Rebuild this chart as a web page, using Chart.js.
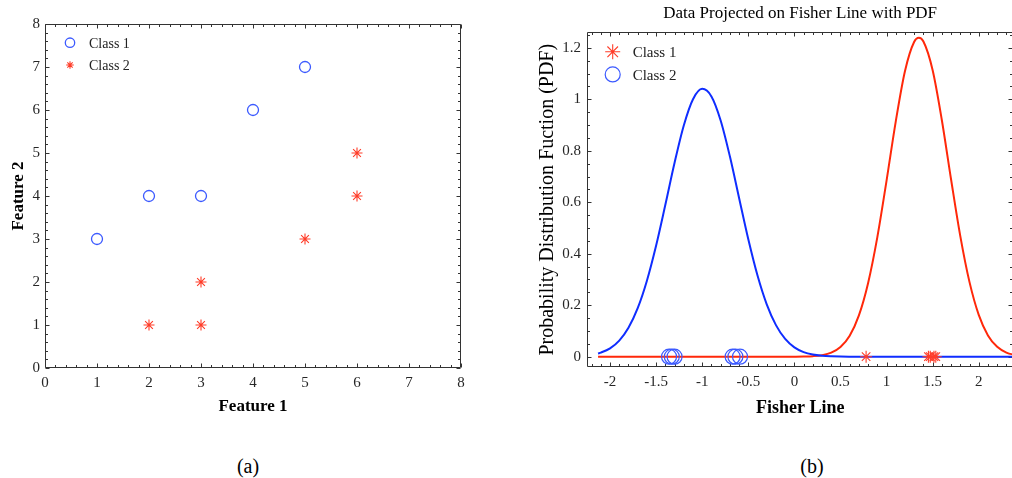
<!DOCTYPE html>
<html>
<head>
<meta charset="utf-8">
<script src="https://cdn.jsdelivr.net/npm/chart.js@4.4.1/dist/chart.umd.min.js"></script>
<style>
  html, body { margin: 0; padding: 0; background: #fff; width: 1012px; height: 478px; overflow: hidden; position: relative; }
  #scatterChart { position: absolute; left: 0; top: 0; }
  #fisherChart { position: absolute; left: 506px; top: 0; }
  .cap { position: absolute; top: 454px; width: 60px; text-align: center; font: 20px/24px "Liberation Serif", "Times New Roman", serif; color: #000; }
</style>
</head>
<body>
<canvas id="scatterChart" width="506" height="430"></canvas>
<canvas id="fisherChart" width="516" height="430"></canvas>
<div class="cap" style="left:218px">(a)</div>
<div class="cap" style="left:782px">(b)</div>
<script>
// (a) raw features
const feature1Class1 = [1, 2, 3, 4, 5];
const feature2Class1 = [3, 4, 4, 6, 7];
const feature1Class2 = [2, 3, 3, 5, 6, 6];
const feature2Class2 = [1, 1, 2, 3, 4, 5];

// (b) points projected on the Fisher line
const projClass1 = [1.454, 1.474, 0.778, 1.514, 1.534];
const projClass2 = [-0.67, -1.36, -0.64, -1.33, -1.30, -0.59];

// (b) PDF curves
const fisherX = [-2.13, -2.1, -2.0, -1.9, -1.8, -1.7, -1.6, -1.5, -1.4, -1.3, -1.2, -1.1, -1.0,
  -0.9, -0.8, -0.7, -0.6, -0.5, -0.4, -0.3, -0.2, -0.1, 0, 0.1, 0.2, 0.3, 0.4, 0.5, 0.6, 0.7,
  0.8, 0.9, 1.0, 1.1, 1.2, 1.3, 1.35, 1.4, 1.5, 1.6, 1.7, 1.8, 1.9, 2.0, 2.1, 2.2, 2.3, 2.4];
const pdfClass1 = [0, 0, 0, 0, 0, 0, 0, 0, 0, 0, 0, 0, 0,
  0, 0, 0, 0, 0, 0, 0, 0, 0, 0.0002, 0.0007, 0.0021, 0.006, 0.0158, 0.0377, 0.0816, 0.1605,
  0.2866, 0.4646, 0.6841, 0.9144, 1.11, 1.2235, 1.239, 1.2247, 1.1132, 0.9188, 0.6886, 0.4687, 0.2897, 0.1625, 0.0828, 0.0383, 0.0161, 0.0061];
const pdfClass2 = [0.0126, 0.0159, 0.0326, 0.0627, 0.1125, 0.1885, 0.2953, 0.432, 0.5903, 0.7534, 0.8983, 1.0004, 1.0408,
  1.0114, 0.918, 0.7785, 0.6166, 0.4562, 0.3153, 0.2035, 0.1227, 0.0691, 0.0364, 0.0179, 0.0082, 0.0035, 0.0014, 0.0005, 0.0002, 0.0001,
  0, 0, 0, 0, 0, 0, 0, 0, 0, 0, 0, 0, 0, 0, 0, 0, 0, 0];

const BLUE_PT = 'rgb(60, 90, 255)';
const RED_PT = 'rgb(255, 60, 40)';
const BLUE_LINE = 'rgb(15, 45, 255)';
const RED_LINE = 'rgb(255, 40, 10)';
const SERIF = '"Liberation Serif", "Times New Roman", serif';

Chart.defaults.font.family = SERIF;

const fmt = v => String(Math.round(v * 100) / 100);
const pts = (xs, ys) => xs.map((v, i) => ({ x: v, y: ys[i] }));

// box around the plot area with inward major/minor ticks on all sides
const frameTicks = {
  id: 'frameTicks',
  beforeDatasetsDraw(chart, args, o) {
    const { ctx, chartArea: a } = chart;
    const { x, y } = chart.scales;
    const L = Math.round(a.left) + 0.5, R = Math.round(a.right) - 0.5;
    const T = Math.round(a.top) + 0.5, B = Math.round(a.bottom) - 0.5;
    const steps = (scale, step) => {
      const out = [];
      for (let k = Math.ceil(scale.min / step - 1e-9); k * step <= scale.max + 1e-9; k++) out.push(k * step);
      return out;
    };
    const isMajor = (v, m) => Math.abs(v / m - Math.round(v / m)) < 1e-6;
    ctx.save();
    ctx.strokeStyle = o.color;
    ctx.lineWidth = 1;
    ctx.beginPath();
    ctx.rect(L, T, R - L, B - T);
    steps(x, o.xMinor).forEach(v => {
      const p = Math.round(x.getPixelForValue(v)) + 0.5;
      const len = isMajor(v, o.xMajor) ? o.majorLen : o.minorLen;
      ctx.moveTo(p, B); ctx.lineTo(p, B - len);
      ctx.moveTo(p, T); ctx.lineTo(p, T + len);
    });
    steps(y, o.yMinor).forEach(v => {
      const p = Math.round(y.getPixelForValue(v)) + 0.5;
      const len = isMajor(v, o.yMajor) ? o.majorLen : o.minorLen;
      ctx.moveTo(L, p); ctx.lineTo(L + len, p);
      ctx.moveTo(R, p); ctx.lineTo(R - len, p);
    });
    ctx.stroke();
    ctx.restore();
  }
};

// legend drawn inside the plot's top-left corner
const innerLegend = {
  id: 'innerLegend',
  afterDatasetsDraw(chart, args, o) {
    const { ctx, chartArea: a } = chart;
    let row = 0;
    chart.data.datasets.forEach(ds => {
      if (!ds.inLegend) return;
      const cx = a.left + o.left;
      const cy = a.top + o.top + row * o.step;
      ctx.save();
      ctx.strokeStyle = ds.borderColor;
      ctx.fillStyle = 'rgba(0,0,0,0)';
      ctx.lineWidth = ds.pointBorderWidth;
      Chart.helpers.drawPoint(ctx, { pointStyle: ds.pointStyle, radius: ds.legendRadius, rotation: 0, borderWidth: ds.pointBorderWidth }, cx, cy);
      ctx.fillStyle = o.color;
      ctx.font = o.fontSize + 'px ' + SERIF;
      ctx.textAlign = 'left';
      ctx.textBaseline = 'middle';
      ctx.fillText(ds.label, a.left + o.textLeft, cy + o.textDy);
      ctx.restore();
      row++;
    });
  }
};

const axisTicks = (step, pad) => ({ stepSize: step, includeBounds: false, padding: pad, color: '#262626', font: { size: 15 }, callback: fmt });

new Chart(document.getElementById('scatterChart'), {
  type: 'scatter',
  data: {
    datasets: [
      { label: 'Class 1', data: pts(feature1Class1, feature2Class1), pointStyle: 'circle', pointRadius: 5.5,
        pointBorderWidth: 1.3, borderColor: BLUE_PT, backgroundColor: 'rgba(0,0,0,0)', inLegend: true, legendRadius: 4.7 },
      { label: 'Class 2', data: pts(feature1Class2, feature2Class2), pointStyle: 'star', pointRadius: 5.5,
        pointBorderWidth: 1.1, borderColor: RED_PT, backgroundColor: RED_PT, inLegend: true, legendRadius: 3.8 }
    ]
  },
  options: {
    responsive: false,
    animation: false,
    layout: { padding: { left: 0, top: 24, right: 45, bottom: 0 } },
    plugins: {
      legend: { display: false },
      tooltip: { enabled: false },
      frameTicks: { color: '#333', xMajor: 1, xMinor: 0.2, yMajor: 1, yMinor: 0.2, majorLen: 4, minorLen: 2.5 },
      innerLegend: { left: 25, top: 18.7, step: 22.3, textLeft: 44, textDy: 1.6, fontSize: 14, color: '#222' }
    },
    scales: {
      x: {
        type: 'linear', min: 0, max: 8,
        grid: { display: false, drawTicks: false }, border: { display: false },
        ticks: axisTicks(1, 6),
        title: { display: true, text: 'Feature 1', color: '#000', font: { size: 17, weight: 'bold' }, padding: { top: 0, bottom: 13 } },
        afterFit: s => { s.height = 62; }
      },
      y: {
        type: 'linear', min: 0, max: 8,
        grid: { display: false, drawTicks: false }, border: { display: false },
        ticks: axisTicks(1, 5),
        title: { display: true, text: 'Feature 2', color: '#000', font: { size: 17, weight: 'bold' }, padding: { top: 8, bottom: 0 } },
        afterFit: s => { s.width = 45; }
      }
    }
  },
  plugins: [frameTicks, innerLegend]
});

new Chart(document.getElementById('fisherChart'), {
  type: 'scatter',
  data: {
    datasets: [
      { label: 'Class 1', data: projClass1.map(v => ({ x: v, y: 0 })), pointStyle: 'star', pointRadius: 6,
        pointBorderWidth: 1.1, borderColor: RED_PT, backgroundColor: RED_PT, inLegend: true, legendRadius: 7.5, order: 0 },
      { label: 'Class 2', data: projClass2.map(v => ({ x: v, y: 0 })), pointStyle: 'circle', pointRadius: 7.5,
        pointBorderWidth: 1.2, borderColor: BLUE_PT, backgroundColor: 'rgba(0,0,0,0)', inLegend: true, legendRadius: 7.5, order: 0 },
      { label: 'PDF Class 2', data: pts(fisherX, pdfClass2), showLine: true, pointRadius: 0, borderWidth: 2,
        borderColor: BLUE_LINE, cubicInterpolationMode: 'monotone', order: 1 },
      { label: 'PDF Class 1', data: pts(fisherX, pdfClass1), showLine: true, pointRadius: 0, borderWidth: 2,
        borderColor: RED_LINE, cubicInterpolationMode: 'monotone', order: 2 }
    ]
  },
  options: {
    responsive: false,
    animation: false,
    layout: { padding: { left: 0, top: 0, right: 6, bottom: 0 } },
    plugins: {
      legend: { display: false },
      tooltip: { enabled: false },
      title: { display: true, fullSize: false, text: 'Data Projected on Fisher Line with PDF', color: '#000',
        font: { size: 17, weight: 'normal' }, padding: { top: 3, bottom: 9 } },
      frameTicks: { color: '#333', xMajor: 0.5, xMinor: 0.1, yMajor: 0.2, yMinor: 0.05, majorLen: 4, minorLen: 2.5 },
      innerLegend: { left: 25.7, top: 19.4, step: 22.6, textLeft: 45.7, textDy: 1.7, fontSize: 15, color: '#222' }
    },
    scales: {
      x: {
        type: 'linear', min: -2.25, max: 2.375,
        grid: { display: false, drawTicks: false }, border: { display: false },
        ticks: axisTicks(0.5, 6),
        title: { display: true, text: 'Fisher Line', color: '#000', font: { size: 18, weight: 'bold' }, padding: { top: 0, bottom: 11 } },
        afterFit: s => { s.height = 63; }
      },
      y: {
        type: 'linear', min: -0.04, max: 1.26,
        grid: { display: false, drawTicks: false }, border: { display: false },
        ticks: axisTicks(0.2, 6),
        title: { display: true, text: 'Probability Distribution Fuction (PDF)', color: '#000', font: { size: 20, weight: 'normal' }, padding: { top: 30, bottom: 0 } },
        afterFit: s => { s.width = 81; }
      }
    }
  },
  plugins: [frameTicks, innerLegend]
});
</script>
</body>
</html>
